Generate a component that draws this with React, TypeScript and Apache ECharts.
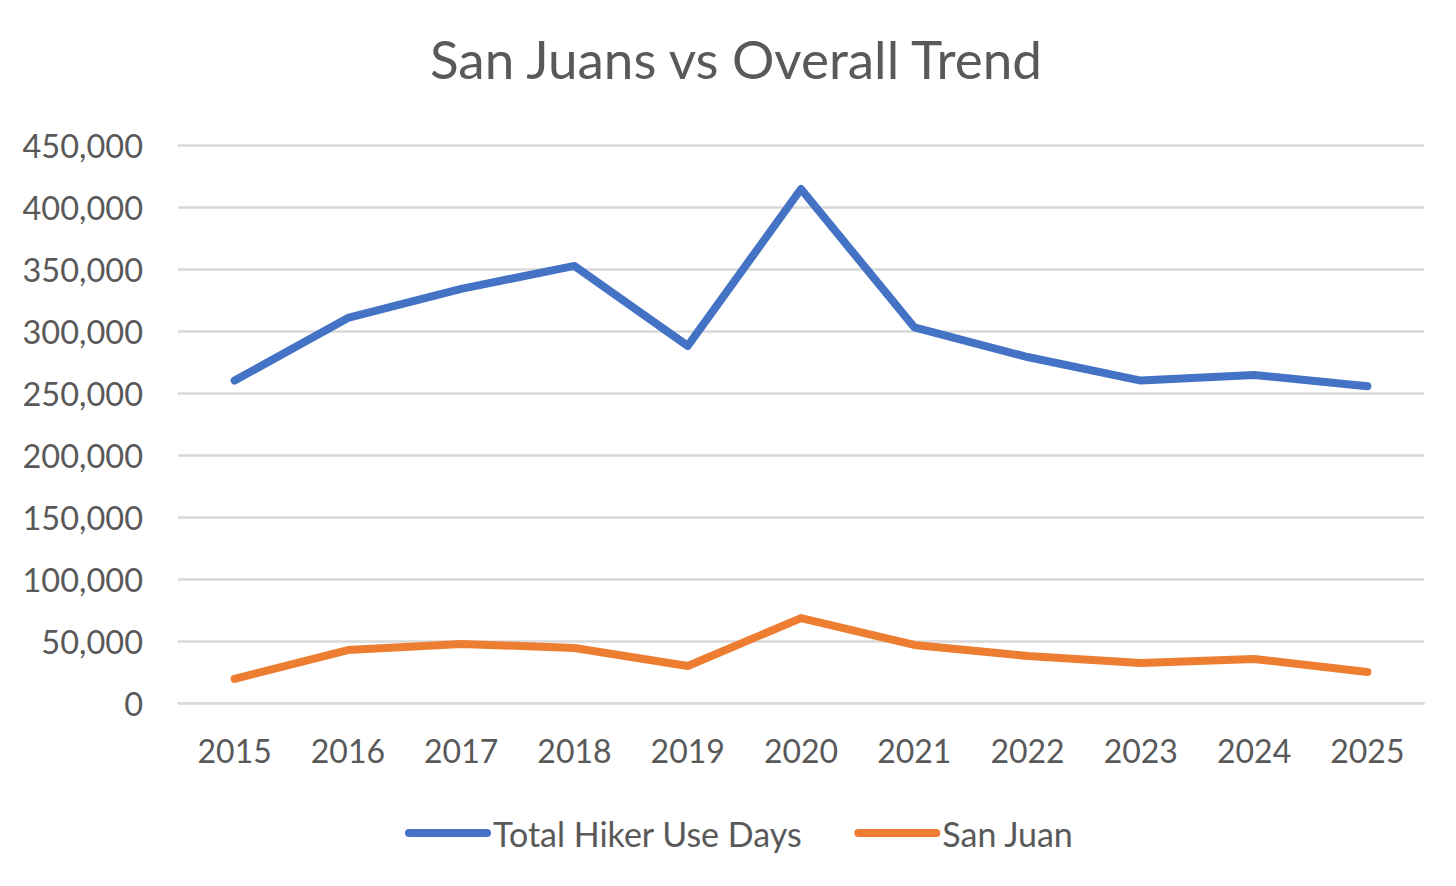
import React, { useEffect, useRef } from "react";
import * as echarts from "echarts";

const years = ["2015", "2016", "2017", "2018", "2019", "2020", "2021", "2022", "2023", "2024", "2025"];
const totalHikerUseDays = [260000, 310500, 334000, 352500, 288000, 414500, 303000, 279000, 260000, 264500, 255500];
const sanJuan = [19500, 42700, 47600, 44400, 29800, 68500, 46800, 37900, 32300, 35500, 25000];

const FONT = "Lato, 'Open Sans', sans-serif";
const TXT = "#595959";

export default function App() {
  const ref = useRef<HTMLDivElement>(null);
  useEffect(() => {
    document.body.style.margin = "0";
    const chart = echarts.init(ref.current!, null, { renderer: "svg" });
    const icon = "path://M4,0 H82 A4,4 0 0 1 82,8 H4 A4,4 0 0 1 4,0 Z";
    chart.setOption({
      animation: false,
      backgroundColor: "#ffffff",
      title: {
        text: "San Juans vs Overall Trend",
        left: 731,
        textAlign: "center",
        top: 27,
        textStyle: { fontFamily: FONT, fontSize: 53, fontWeight: "normal", color: TXT },
      },
      legend: {
        bottom: 31,
        left: 400,
        itemWidth: 86,
        itemHeight: 8,
        itemGap: 52,
        textStyle: { fontFamily: FONT, fontSize: 34, color: TXT, padding: [0, 0, 0, -3] },
        data: [
          { name: "Total Hiker Use Days", icon },
          { name: "San Juan", icon },
        ],
      },
      grid: { left: 178, right: 32, top: 145, bottom: 183, containLabel: false },
      xAxis: {
        type: "category",
        data: years,
        boundaryGap: true,
        axisLine: { show: true, lineStyle: { color: "#d9d9d9", width: 2 } },
        axisTick: { show: false },
        axisLabel: { fontFamily: FONT, fontSize: 32, color: TXT, margin: 31 },
      },
      yAxis: {
        type: "value",
        min: 0,
        max: 450000,
        interval: 50000,
        axisLine: { show: false },
        axisTick: { show: false },
        splitLine: { lineStyle: { color: "#d9d9d9", width: 2.5 } },
        axisLabel: {
          fontFamily: FONT,
          fontSize: 32.5,
          color: TXT,
          margin: 35,
          formatter: (v: number) => v.toLocaleString("en-US"),
        },
      },
      series: [
        {
          name: "Total Hiker Use Days",
          type: "line",
          data: totalHikerUseDays,
          symbol: "none",
          lineStyle: { color: "#4472C4", width: 8, cap: "round", join: "round" },
          itemStyle: { color: "#4472C4" },
        },
        {
          name: "San Juan",
          type: "line",
          data: sanJuan,
          symbol: "none",
          lineStyle: { color: "#ED7D31", width: 8, cap: "round", join: "round" },
          itemStyle: { color: "#ED7D31" },
        },
      ],
    });
    return () => chart.dispose();
  }, []);
  return <div ref={ref} style={{ width: 1456, height: 886 }} />;
}
